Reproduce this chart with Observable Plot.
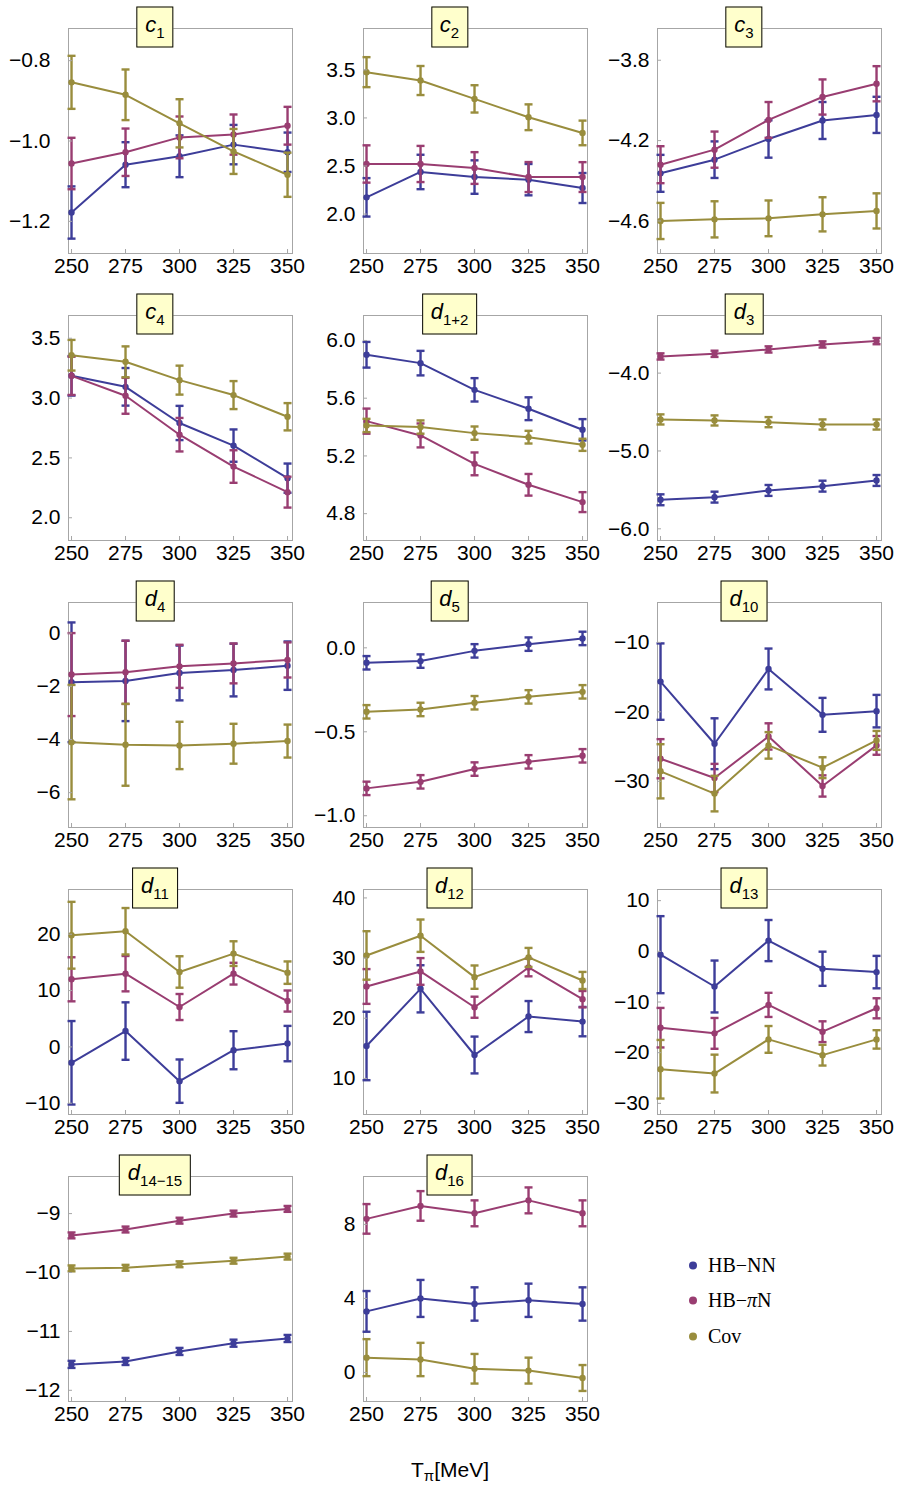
<!DOCTYPE html>
<html>
<head>
<meta charset="utf-8">
<script src="https://cdn.jsdelivr.net/npm/d3@7"></script>
<script src="https://cdn.jsdelivr.net/npm/@observablehq/plot@0.6"></script>
<style>
  body { margin: 0; background: #fff; }
  #fig { position: relative; width: 900px; height: 1488px; background: #fff;
         font-family: "Liberation Sans", Arial, Helvetica, sans-serif; color: #000; }
  .panel { position: absolute; }
  .tag { position: absolute; transform: translate(-50%, -50%); background: #ffffcc;
         border: 1px solid #000; height: 39px; padding: 0 8px; display: flex; align-items: center;
         font-size: 22px; white-space: nowrap; }
  .tag .lbl { display: inline-block; line-height: 1; margin-top: -4px; }
  .tag i { font-style: italic; }
  .tag sub { font-size: 15px; vertical-align: -6px; line-height: 0; }
  .legend { position: absolute; font-family: "Liberation Serif", "Times New Roman", serif; font-size: 20px; }
  .legend .item { position: absolute; display: flex; align-items: center; white-space: nowrap; transform: translateY(-50%); }
  .legend .sw { width: 8px; height: 8px; border-radius: 50%; margin-right: 11px; }
  .xlabel { position: absolute; left: 450px; top: 1470px; transform: translate(-50%, -50%); font-size: 21px; white-space: nowrap; }
  .xlabel sub { font-size: 15px; vertical-align: -4px; line-height: 0; }
</style>
</head>
<body>
<div id="fig"></div>
<script>
// Pion kinetic energies (MeV) at which the LECs were fitted
const temps = [250, 275, 300, 325, 350];

// Fit schemes
const seriesNames = ["HB−NN", "HB−πN", "Cov"];
const seriesColors = ["#3d3d99", "#993d71", "#998d3d"];

// Panel labels: symbol and subscript
const panelSymbols = ["c", "c", "c", "c", "d", "d", "d", "d", "d", "d", "d", "d", "d", "d"];
const panelSubs = ["1", "2", "3", "4", "1+2", "3", "4", "5", "10", "11", "12", "13", "14−15", "16"];

// Y tick values per panel and decimals shown
const yTicks = [
  [-1.2, -1.0, -0.8],
  [2.0, 2.5, 3.0, 3.5],
  [-4.6, -4.2, -3.8],
  [2.0, 2.5, 3.0, 3.5],
  [4.8, 5.2, 5.6, 6.0],
  [-6.0, -5.0, -4.0],
  [-6, -4, -2, 0],
  [-1.0, -0.5, 0.0],
  [-30, -20, -10],
  [-10, 0, 10, 20],
  [10, 20, 30, 40],
  [-30, -20, -10, 0, 10],
  [-12, -11, -10, -9],
  [0, 4, 8]
];
const yDecimals = [1, 1, 1, 1, 1, 1, 0, 1, 0, 0, 0, 0, 0, 0];

// Plot ranges of the y axis per panel
const yDomains = [
  [-1.28, -0.72],
  [1.59, 3.93],
  [-4.762, -3.642],
  [1.81, 3.69],
  [4.614, 6.173],
  [-6.15, -3.26],
  [-7.31, 1.15],
  [-1.07, 0.27],
  [-36.65, -4.26],
  [-12.0, 27.94],
  [4.0, 41.4],
  [-32.2, 12.2],
  [-12.19, -8.37],
  [-1.57, 10.59]
];
const xDomain = [248.6, 352.3];

// HB-NN central values and uncertainties
const nnVal = [
  [-1.178, -1.059, -1.038, -1.009, -1.028],
  [2.174, 2.438, 2.385, 2.358, 2.271],
  [-4.363, -4.295, -4.192, -4.100, -4.072],
  [3.186, 3.094, 2.792, 2.603, 2.331],
  [5.901, 5.843, 5.658, 5.527, 5.381],
  [-5.627, -5.593, -5.507, -5.452, -5.379],
  [-1.85, -1.80, -1.50, -1.39, -1.225],
  [-0.089, -0.079, -0.018, 0.022, 0.056],
  [-15.65, -24.59, -13.83, -20.43, -19.90],
  [-2.82, 2.81, -6.08, -0.59, 0.59],
  [15.39, 24.89, 13.89, 20.28, 19.44],
  [-0.66, -6.94, 2.12, -3.44, -4.10],
  [-11.56, -11.51, -11.34, -11.20, -11.12],
  [3.3, 4.0, 3.7, 3.9, 3.7]
];
const nnErr = [
  [0.065, 0.056, 0.052, 0.049, 0.049],
  [0.200, 0.179, 0.174, 0.163, 0.156],
  [0.092, 0.091, 0.093, 0.092, 0.090],
  [0.165, 0.157, 0.143, 0.135, 0.122],
  [0.089, 0.085, 0.081, 0.079, 0.074],
  [0.07, 0.07, 0.07, 0.07, 0.07],
  [2.25, 1.51, 1.03, 0.99, 0.91],
  [0.04, 0.04, 0.04, 0.04, 0.04],
  [5.5, 3.66, 2.94, 2.44, 2.34],
  [7.41, 5.1, 3.85, 3.38, 3.14],
  [5.69, 3.92, 3.06, 2.58, 2.44],
  [7.6, 5.12, 4.06, 3.37, 3.2],
  [0.06, 0.06, 0.06, 0.06, 0.06],
  [1.1, 1.0, 0.9, 0.9, 0.9]
];

// HB-piN central values and uncertainties
const pinVal = [
  [-1.056, -1.028, -0.991, -0.984, -0.962],
  [2.521, 2.521, 2.479, 2.385, 2.385],
  [-4.320, -4.245, -4.097, -3.983, -3.917],
  [3.186, 3.019, 2.694, 2.428, 2.214],
  [5.441, 5.342, 5.145, 5.000, 4.880],
  [-3.786, -3.752, -3.696, -3.632, -3.589],
  [-1.56, -1.475, -1.25, -1.14, -1.01],
  [-0.837, -0.798, -0.722, -0.679, -0.643],
  [-26.75, -29.52, -23.54, -30.67, -24.83],
  [12.0, 13.0, 7.08, 13.0, 8.14],
  [25.28, 27.78, 21.83, 28.44, 23.17],
  [-15.07, -16.19, -10.57, -15.86, -11.24],
  [-9.37, -9.27, -9.12, -9.00, -8.92],
  [8.3, 9.0, 8.6, 9.3, 8.6]
];
const pinErr = [
  [0.064, 0.059, 0.052, 0.050, 0.047],
  [0.194, 0.188, 0.165, 0.156, 0.155],
  [0.092, 0.090, 0.089, 0.0875, 0.0875],
  [0.160, 0.150, 0.140, 0.136, 0.129],
  [0.087, 0.083, 0.079, 0.075, 0.069],
  [0.04, 0.04, 0.04, 0.04, 0.04],
  [1.56, 1.19, 0.81, 0.75, 0.66],
  [0.04, 0.04, 0.04, 0.04, 0.04],
  [2.82, 2.03, 1.89, 1.53, 1.35],
  [3.91, 3.14, 2.31, 1.93, 1.87],
  [2.89, 2.22, 1.75, 1.47, 1.36],
  [3.9, 3.04, 2.38, 2.05, 1.98],
  [0.05, 0.05, 0.05, 0.05, 0.05],
  [0.8, 0.8, 0.7, 0.7, 0.7]
];

// Covariant fit central values and uncertainties
const covVal = [
  [-0.854, -0.885, -0.956, -1.026, -1.084],
  [3.476, 3.389, 3.198, 3.007, 2.844],
  [-4.600, -4.592, -4.587, -4.567, -4.550],
  [3.358, 3.303, 3.150, 3.025, 2.844],
  [5.411, 5.400, 5.358, 5.330, 5.277],
  [-4.595, -4.608, -4.630, -4.660, -4.660],
  [-4.10, -4.20, -4.225, -4.16, -4.06],
  [-0.381, -0.367, -0.327, -0.292, -0.262],
  [-28.56, -31.77, -24.83, -28.04, -24.11],
  [19.82, 20.53, 13.30, 16.56, 13.18],
  [30.44, 33.72, 26.83, 30.11, 26.28],
  [-23.27, -24.12, -17.38, -20.49, -17.38],
  [-9.93, -9.92, -9.86, -9.80, -9.73],
  [0.8, 0.7, 0.2, 0.1, -0.3]
];
const covErr = [
  [0.066, 0.063, 0.060, 0.056, 0.055],
  [0.156, 0.151, 0.142, 0.134, 0.128],
  [0.090, 0.090, 0.089, 0.085, 0.0875],
  [0.128, 0.129, 0.121, 0.117, 0.114],
  [0.046, 0.046, 0.046, 0.044, 0.042],
  [0.065, 0.065, 0.065, 0.065, 0.065],
  [2.15, 1.54, 0.89, 0.75, 0.62],
  [0.04, 0.04, 0.04, 0.04, 0.04],
  [3.9, 2.56, 1.91, 1.5, 1.36],
  [5.93, 4.12, 2.79, 2.19, 1.99],
  [4.03, 2.69, 1.94, 1.58, 1.42],
  [5.78, 3.73, 2.64, 2.05, 1.82],
  [0.05, 0.05, 0.05, 0.05, 0.05],
  [1.0, 0.9, 0.8, 0.7, 0.7]
];

const allVals = [nnVal, pinVal, covVal];
const allErrs = [nnErr, pinErr, covErr];

// Grid geometry
const cellW = 294.5, cellH = 287;
const plotW = 294, plotH = 287;
const mLeft = 68, mRight = 2, mTop = 28, mBottom = 34;

// Horizontal cap drawn at the ends of each error bar
const capSymbol = {
  draw(context, size) {
    const w = Math.sqrt(size / Math.PI);
    context.moveTo(-w, 0);
    context.lineTo(w, 0);
  }
};

const fig = document.getElementById("fig");
const fontFamily = '"Liberation Sans", Arial, Helvetica, sans-serif';

panelSubs.forEach((sub, i) => {
  const row = Math.floor(i / 3), col = i % 3;
  const left = col * cellW, top = row * cellH;

  const marks = [Plot.frame({stroke: "#a6a6a6", strokeWidth: 1})];

  seriesNames.forEach((s, si) => {
    const data = temps.map((t, k) => {
      const v = allVals[si][i][k], e = allErrs[si][i][k];
      return {T: t, v, lo: v - e, hi: v + e, series: s};
    });
    marks.push(
      Plot.line(data, {x: "T", y: "v", stroke: "series", strokeWidth: 2}),
      Plot.ruleX(data, {x: "T", y1: "lo", y2: "hi", stroke: "series", strokeWidth: 2.4}),
      Plot.dot(data, {x: "T", y: "lo", symbol: capSymbol, r: 4, stroke: "series", strokeWidth: 2.4}),
      Plot.dot(data, {x: "T", y: "hi", symbol: capSymbol, r: 4, stroke: "series", strokeWidth: 2.4}),
      Plot.dot(data, {x: "T", y: "v", fill: "series", r: 3.2, stroke: "none"})
    );
  });

  const fmt = d3.format(`.${yDecimals[i]}f`);
  const gap = i === 0 ? 18 : 8;
  marks.push(
    // inward frame ticks
    Plot.axisX({ticks: temps, tickSize: 4, dy: -4, tickFormat: () => "", label: null, stroke: "#a6a6a6"}),
    Plot.axisY({ticks: yTicks[i], tickSize: 4, dx: 4, tickFormat: () => "", label: null, stroke: "#a6a6a6"}),
    // tick labels
    Plot.axisX({ticks: temps, tickSize: 0, tickPadding: 5, fontSize: 21, fill: "#000", label: null, tickFormat: d3.format("d")}),
    Plot.axisY({ticks: yTicks[i], tickSize: 0, tickPadding: gap, fontSize: 21, fill: "#000", label: null, tickFormat: fmt})
  );

  const svg = Plot.plot({
    width: plotW,
    height: plotH,
    marginLeft: mLeft, marginRight: mRight, marginTop: mTop, marginBottom: mBottom,
    style: {fontFamily, fontSize: "21px", color: "#000", background: "transparent", overflow: "visible"},
    x: {domain: xDomain, label: null},
    y: {domain: yDomains[i], label: null},
    color: {domain: seriesNames, range: seriesColors},
    marks
  });

  const holder = document.createElement("div");
  holder.className = "panel";
  holder.style.left = left + "px";
  holder.style.top = top + "px";
  holder.appendChild(svg);
  fig.appendChild(holder);

  // panel label box
  const tag = document.createElement("div");
  tag.className = "tag";
  tag.style.left = (left + mLeft + (plotW - mLeft - mRight) / 2 - 25) + "px";
  tag.style.top = (top + mTop - 1.5) + "px";
  tag.innerHTML = `<span class="lbl"><i>${panelSymbols[i]}</i><sub>${sub}</sub></span>`;
  fig.appendChild(tag);
});

// Legend
const legend = document.createElement("div");
legend.className = "legend";
legend.style.left = "689px";
legend.style.top = "0px";
const legendY = [1265, 1300, 1336];
seriesNames.forEach((s, si) => {
  const item = document.createElement("div");
  item.className = "item";
  item.style.top = legendY[si] + "px";
  const label = s === "HB−πN" ? "HB−<i>π</i>N" : s;
  item.innerHTML = `<span class="sw" style="background:${seriesColors[si]}"></span><span>${label}</span>`;
  legend.appendChild(item);
});
fig.appendChild(legend);

// Shared x-axis title
const xl = document.createElement("div");
xl.className = "xlabel";
xl.innerHTML = "T<sub>π</sub>[MeV]";
fig.appendChild(xl);
</script>
</body>
</html>
